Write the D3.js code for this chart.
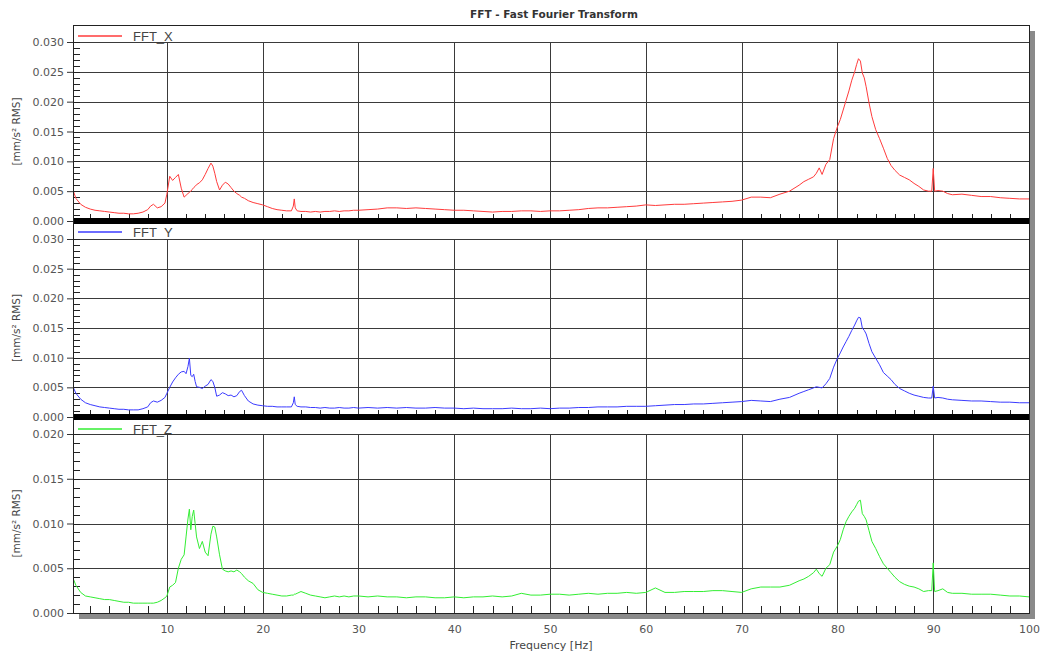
<!DOCTYPE html>
<html>
<head>
<meta charset="utf-8">
<script src="https://cdn.jsdelivr.net/npm/d3@7"></script>
<style>
  body { margin: 0; background: #fff; }
</style>
</head>
<body>
<div id="chart-area"></div>
<script>
// frequency grid (Hz), shared by the three channels
const freqHz = [
  0.2, 0.5, 1, 1.5, 2, 2.5, 3, 3.5, 4, 4.5, 5, 5.5, 6, 6.5, 7, 7.5, 8, 8.3, 8.6, 9, 9.4, 9.8,
  10, 10.3, 10.6, 10.9, 11.2, 11.5, 11.8, 12, 12.2, 12.35, 12.5, 12.65, 12.8, 12.95, 13.1, 13.4, 13.7, 14,
  14.3, 14.6, 14.8, 15, 15.2, 15.5, 15.8, 16.1, 16.4, 16.7, 17, 17.3, 17.6, 17.8, 18.1, 18.5, 19, 19.5,
  20, 20.5, 21, 21.5, 22, 22.5, 23, 23.2, 23.3, 23.4, 23.6, 24, 24.5, 25, 25.5, 26, 26.5, 27, 27.5, 28, 28.5, 29, 29.5,
  30, 31, 32, 33, 34, 35, 36, 37, 38, 39,
  40, 41, 42, 43, 44, 45, 46, 47, 48, 49,
  50, 51, 52, 53, 54, 55, 56, 57, 58, 59,
  60, 61, 62, 63, 64, 65, 66, 67, 68, 69,
  70, 71, 72, 73, 74, 75,
  76, 76.5, 77, 77.5, 77.8, 78.1, 78.4, 78.8, 79.2, 79.6,
  80, 80.3, 80.6, 80.9, 81.2, 81.5, 81.8, 82, 82.2, 82.4,
  82.6, 82.8, 83, 83.3, 83.6, 84, 84.4, 84.8, 85.2, 85.6,
  86, 86.5, 87, 87.5, 88, 88.5, 89, 89.5, 89.85, 90,
  90.15, 90.5, 91, 91.5,
  92, 93, 94, 95, 96, 97, 98, 99, 100
];

const fftX = [
  0.0052, 0.0038, 0.0028, 0.0023, 0.0020, 0.0018, 0.0017, 0.0016, 0.0015, 0.0014, 0.0013, 0.0013, 0.0012, 0.0012, 0.0013, 0.0015, 0.0019, 0.0025, 0.0028, 0.0022, 0.0024, 0.0030,
  0.0045, 0.0075, 0.0068, 0.0073, 0.0078, 0.0055, 0.0040, 0.0043, 0.0046, 0.0048, 0.0050, 0.0053, 0.0056, 0.0058, 0.0061, 0.0064, 0.0069, 0.0078,
  0.0088, 0.0097, 0.0092, 0.0080, 0.0066, 0.0052, 0.0060, 0.0065, 0.0062, 0.0056, 0.0050, 0.0046, 0.0043, 0.0040, 0.0038, 0.0034, 0.0031, 0.0029,
  0.0027, 0.0024, 0.0021, 0.0019, 0.0018, 0.0017, 0.0017, 0.0025, 0.0037, 0.0022, 0.0017, 0.0016, 0.0016, 0.0015, 0.0016, 0.0015, 0.0016, 0.0016, 0.0017, 0.0016, 0.0017, 0.0017, 0.0018,
  0.0018, 0.0019, 0.0020, 0.0022, 0.0022, 0.0021, 0.0022, 0.0021, 0.0020, 0.0019,
  0.0018, 0.0018, 0.0017, 0.0016, 0.0015, 0.0016, 0.0016, 0.0017, 0.0017, 0.0016,
  0.0017, 0.0017, 0.0018, 0.0019, 0.0021, 0.0022, 0.0022, 0.0023, 0.0024, 0.0025,
  0.0027, 0.0026, 0.0027, 0.0028, 0.0028, 0.0029, 0.0030, 0.0031, 0.0032, 0.0033,
  0.0035, 0.0040, 0.0040, 0.0039, 0.0045, 0.0050,
  0.0060, 0.0066, 0.0070, 0.0074, 0.0080, 0.0089, 0.0078, 0.0095, 0.0103, 0.0138,
  0.0158, 0.0170, 0.0186, 0.0202, 0.0218, 0.0236, 0.0250, 0.0262, 0.0272, 0.0268,
  0.0248, 0.0240, 0.0225, 0.0198, 0.0175, 0.0153, 0.0138, 0.0122, 0.0105, 0.0093,
  0.0085, 0.0077, 0.0073, 0.0069, 0.0063, 0.0058, 0.0052, 0.0050, 0.0050, 0.0088,
  0.0050, 0.0051, 0.0050, 0.0046,
  0.0044, 0.0045, 0.0043, 0.0041, 0.0041, 0.0039, 0.0038, 0.0037, 0.0037
];

const fftY = [
  0.0051, 0.0040, 0.0030, 0.0024, 0.0021, 0.0019, 0.0017, 0.0016, 0.0015, 0.0014, 0.0013, 0.0013, 0.0012, 0.0012, 0.0012, 0.0014, 0.0017, 0.0024, 0.0027, 0.0025, 0.0028, 0.0033,
  0.0040, 0.0050, 0.0059, 0.0066, 0.0072, 0.0076, 0.0077, 0.0073, 0.0085, 0.0099, 0.0070, 0.0068, 0.0072, 0.0060, 0.0051, 0.0050, 0.0048, 0.0052,
  0.0055, 0.0063, 0.0060, 0.0050, 0.0035, 0.0037, 0.0041, 0.0039, 0.0036, 0.0037, 0.0034, 0.0036, 0.0043, 0.0045, 0.0036, 0.0027, 0.0022, 0.0020,
  0.0019, 0.0018, 0.0018, 0.0017, 0.0017, 0.0017, 0.0017, 0.0024, 0.0034, 0.0021, 0.0018, 0.0017, 0.0017, 0.0016, 0.0016, 0.0015, 0.0016, 0.0015, 0.0015, 0.0016, 0.0015, 0.0015, 0.0016,
  0.0015, 0.0016, 0.0015, 0.0016, 0.0015, 0.0016, 0.0015, 0.0015, 0.0016, 0.0015,
  0.0015, 0.0014, 0.0015, 0.0014, 0.0014, 0.0014, 0.0015, 0.0014, 0.0014, 0.0015,
  0.0014, 0.0015, 0.0015, 0.0016, 0.0016, 0.0017, 0.0017, 0.0017, 0.0018, 0.0018,
  0.0018, 0.0019, 0.0020, 0.0021, 0.0021, 0.0022, 0.0022, 0.0023, 0.0024, 0.0025,
  0.0026, 0.0028, 0.0027, 0.0026, 0.0030, 0.0033,
  0.0040, 0.0043, 0.0046, 0.0049, 0.0051, 0.0050, 0.0049, 0.0056, 0.0065, 0.0084,
  0.0099, 0.0108, 0.0118, 0.0127, 0.0136, 0.0146, 0.0155, 0.0162, 0.0168, 0.0167,
  0.0150, 0.0146, 0.0140, 0.0124, 0.0110, 0.0099, 0.0088, 0.0075, 0.0069, 0.0063,
  0.0055, 0.0048, 0.0044, 0.0040, 0.0037, 0.0035, 0.0033, 0.0032, 0.0032, 0.0052,
  0.0032, 0.0033, 0.0032, 0.0030,
  0.0029, 0.0028, 0.0027, 0.0027, 0.0026, 0.0025, 0.0025, 0.0024, 0.0024
];

const fftZ = [
  0.0039, 0.0031, 0.0023, 0.0019, 0.0018, 0.0017, 0.0016, 0.0015, 0.0015, 0.0014, 0.0013, 0.0012, 0.0012, 0.0011, 0.0011, 0.0011, 0.0011, 0.0011, 0.0011, 0.0012, 0.0014, 0.0017,
  0.0019, 0.0029, 0.0031, 0.0034, 0.0050, 0.0060, 0.0065, 0.0085, 0.0105, 0.0116, 0.0093, 0.0108, 0.0115, 0.0100, 0.0085, 0.0072, 0.0080, 0.0068,
  0.0064, 0.0088, 0.0097, 0.0096, 0.0085, 0.0065, 0.0049, 0.0047, 0.0046, 0.0047, 0.0046, 0.0048, 0.0046, 0.0044, 0.0040, 0.0036, 0.0033, 0.0026,
  0.0023, 0.0022, 0.0021, 0.0020, 0.0019, 0.0019, 0.0020, 0.0020, 0.0021, 0.0021, 0.0022, 0.0024, 0.0022, 0.0020, 0.0019, 0.0018, 0.0017, 0.0018, 0.0019, 0.0018, 0.0019, 0.0018, 0.0019,
  0.0019, 0.0018, 0.0019, 0.0018, 0.0018, 0.0017, 0.0018, 0.0018, 0.0017, 0.0017,
  0.0018, 0.0017, 0.0018, 0.0018, 0.0019, 0.0018, 0.0019, 0.0022, 0.0020, 0.0020,
  0.0021, 0.0021, 0.0020, 0.0021, 0.0022, 0.0021, 0.0022, 0.0022, 0.0023, 0.0022,
  0.0023, 0.0028, 0.0023, 0.0023, 0.0024, 0.0024, 0.0024, 0.0025, 0.0025, 0.0024,
  0.0023, 0.0027, 0.0029, 0.0029, 0.0029, 0.0031,
  0.0036, 0.0038, 0.0041, 0.0045, 0.0049, 0.0044, 0.0041, 0.0050, 0.0054, 0.0068,
  0.0075, 0.0082, 0.0093, 0.0102, 0.0108, 0.0113, 0.0117, 0.0121, 0.0125, 0.0126,
  0.0111, 0.0108, 0.0104, 0.0092, 0.0080, 0.0072, 0.0063, 0.0055, 0.0050, 0.0045,
  0.0040, 0.0035, 0.0032, 0.0030, 0.0029, 0.0027, 0.0024, 0.0025, 0.0025, 0.0056,
  0.0024, 0.0025, 0.0027, 0.0023,
  0.0022, 0.0022, 0.0021, 0.0021, 0.0021, 0.0020, 0.0019, 0.0019, 0.0018
];

const seriesNames = ["FFT_X", "FFT_Y", "FFT_Z"];
const yTicksXY = [0, 0.005, 0.010, 0.015, 0.020, 0.025, 0.030];
const yTicksZ = [0, 0.005, 0.010, 0.015, 0.020];
const xTicks = [10, 20, 30, 40, 50, 60, 70, 80, 90, 100];

const config = {
  width: 1041,
  height: 655,
  left: 73,
  right: 1029,
  frameTop: 25,
  frameBottom: 613
};

const panels = [
  { name: seriesNames[0], values: fftX, ticks: yTicksXY, top: 42, zero: 221, legendY: 36, color: "#ff3b3b" },
  { name: seriesNames[1], values: fftY, ticks: yTicksXY, top: 239, zero: 417, legendY: 232, color: "#3b3bff" },
  { name: seriesNames[2], values: fftZ, ticks: yTicksZ, top: 434, zero: 613, legendY: 429, color: "#33ee33" }
];

const tickFont = "DejaVu Sans, Verdana, sans-serif";
const gridColor = "#3a3a3a";

const svg = d3.select("#chart-area")
  .append("svg")
  .attr("width", config.width)
  .attr("height", config.height)
  .style("background", "#fff");

const xScale = d3.scaleLinear()
  .domain([0.2, 100])
  .range([config.left, config.right]);

// drop shadow of the plot frame
svg.append("rect")
  .attr("x", config.left + 6).attr("y", config.frameBottom + 1)
  .attr("width", config.right - config.left).attr("height", 5)
  .attr("fill", "#8a8a8a");
svg.append("rect")
  .attr("x", config.right + 1).attr("y", config.frameTop + 6)
  .attr("width", 5).attr("height", config.frameBottom - config.frameTop)
  .attr("fill", "#8a8a8a");

svg.append("rect")
  .attr("x", config.left).attr("y", config.frameTop)
  .attr("width", config.right - config.left)
  .attr("height", config.frameBottom - config.frameTop)
  .attr("fill", "#fff");

svg.append("defs").append("clipPath")
  .attr("id", "plot-clip")
  .append("rect")
  .attr("x", config.left).attr("y", config.frameTop)
  .attr("width", config.right - config.left)
  .attr("height", config.frameBottom - config.frameTop);

panels.forEach((p, i) => {
  const yMax = p.ticks[p.ticks.length - 1];
  const yScale = d3.scaleLinear()
    .domain([0, yMax])
    .range([p.zero, p.top]);

  const g = svg.append("g").attr("class", "panel");

  // horizontal grid
  g.selectAll(".hgrid")
    .data(p.ticks)
    .enter().append("line")
    .attr("x1", config.left).attr("x2", config.right)
    .attr("y1", d => Math.round(yScale(d)) + 0.5)
    .attr("y2", d => Math.round(yScale(d)) + 0.5)
    .attr("stroke", gridColor).attr("stroke-width", 1);

  // vertical grid
  g.selectAll(".vgrid")
    .data(xTicks.filter(d => d < 100))
    .enter().append("line")
    .attr("x1", d => Math.round(xScale(d)) + 0.5)
    .attr("x2", d => Math.round(xScale(d)) + 0.5)
    .attr("y1", p.top).attr("y2", p.zero)
    .attr("stroke", gridColor).attr("stroke-width", 1);

  // minor x ticks every 2 Hz
  g.selectAll(".xminor")
    .data(d3.range(2, 100, 2).filter(d => d % 10 !== 0))
    .enter().append("line")
    .attr("x1", d => Math.round(xScale(d)) + 0.5)
    .attr("x2", d => Math.round(xScale(d)) + 0.5)
    .attr("y1", p.zero - 7).attr("y2", p.zero)
    .attr("stroke", "#222").attr("stroke-width", 1);

  // minor y ticks every 0.001
  g.selectAll(".yminor")
    .data(d3.range(0, yMax + 0.0005, 0.001))
    .enter().append("line")
    .attr("x1", config.left).attr("x2", config.left + 7)
    .attr("y1", d => Math.round(yScale(d)) + 0.5)
    .attr("y2", d => Math.round(yScale(d)) + 0.5)
    .attr("stroke", "#222").attr("stroke-width", 1);

  // series line
  const line = d3.line()
    .x(d => xScale(d[0]))
    .y(d => yScale(d[1]));

  g.append("path")
    .datum(freqHz.map((f, k) => [f, p.values[k]]))
    .attr("clip-path", "url(#plot-clip)")
    .attr("fill", "none")
    .attr("stroke", p.color)
    .attr("stroke-width", 1)
    .attr("stroke-linejoin", "round")
    .attr("d", line);

  // y axis labels with outer ticks
  const yAxisGroup = g.append("g")
    .attr("transform", `translate(${config.left}, 0)`)
    .call(d3.axisLeft(yScale)
      .tickValues(p.ticks)
      .tickFormat(d3.format(".3f"))
      .tickSize(6)
      .tickPadding(3));
  yAxisGroup.select(".domain").remove();
  yAxisGroup.selectAll(".tick line").attr("stroke", "#333");
  yAxisGroup.selectAll("text")
    .style("font-family", tickFont)
    .style("font-size", "11px")
    .style("fill", "#555");

  // axis title
  g.append("text")
    .attr("transform", `translate(20, ${(p.top + p.zero) / 2}) rotate(-90)`)
    .attr("text-anchor", "middle")
    .style("font-family", tickFont)
    .style("font-size", "10.5px")
    .style("fill", "#444")
    .text("[mm/s² RMS]");

  // separator bar under the upper panels
  if (i < panels.length - 1) {
    g.append("rect")
      .attr("x", config.left).attr("y", p.zero - 3)
      .attr("width", config.right - config.left).attr("height", 6)
      .attr("fill", "#000");
  }

  // legend
  g.append("line")
    .attr("x1", config.left + 5).attr("x2", config.left + 49)
    .attr("y1", p.legendY).attr("y2", p.legendY)
    .attr("stroke", p.color).attr("stroke-width", 1.5);
  g.append("text")
    .attr("x", config.left + 60).attr("y", p.legendY + 4.5)
    .style("font-family", "Liberation Sans, Arial, sans-serif")
    .style("font-size", "13px")
    .style("fill", "#444")
    .text(p.name);
});

// frame
svg.append("rect")
  .attr("x", config.left + 0.5).attr("y", config.frameTop + 0.5)
  .attr("width", config.right - config.left)
  .attr("height", config.frameBottom - config.frameTop)
  .attr("fill", "none")
  .attr("stroke", "#222").attr("stroke-width", 1);

// x axis labels
const xAxisGroup = svg.append("g")
  .attr("transform", `translate(0, ${config.frameBottom})`)
  .call(d3.axisBottom(xScale)
    .tickValues(xTicks)
    .tickSize(0)
    .tickPadding(12));
xAxisGroup.select(".domain").remove();
xAxisGroup.selectAll("text")
  .style("font-family", tickFont)
  .style("font-size", "11px")
  .style("fill", "#555");

svg.append("text")
  .attr("x", (config.left + config.right) / 2)
  .attr("y", 649)
  .attr("text-anchor", "middle")
  .style("font-family", tickFont)
  .style("font-size", "11px")
  .style("fill", "#444")
  .text("Frequency [Hz]");

svg.append("text")
  .attr("x", (config.left + config.right) / 2 + 3)
  .attr("y", 18)
  .attr("text-anchor", "middle")
  .style("font-family", tickFont)
  .style("font-size", "10.5px")
  .style("font-weight", "bold")
  .style("fill", "#333")
  .text("FFT - Fast Fourier Transform");
</script>
</body>
</html>
